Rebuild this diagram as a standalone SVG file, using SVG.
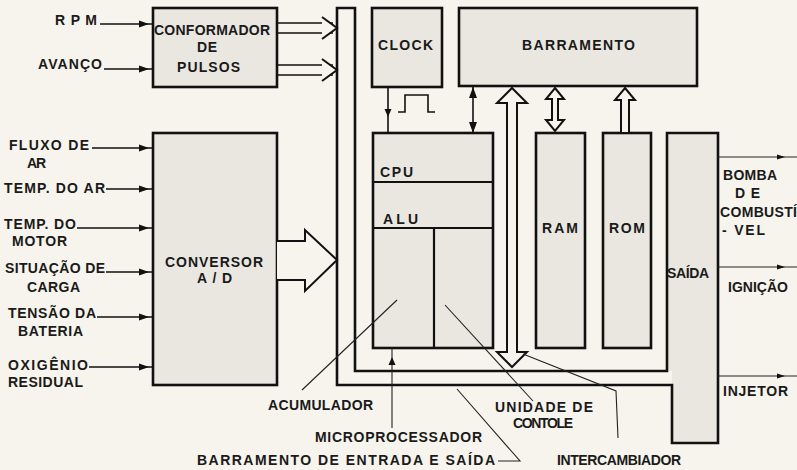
<svg xmlns="http://www.w3.org/2000/svg" width="797" height="470" viewBox="0 0 797 470">
<style>
.bg{fill:#f6f4ec}
.box{fill:#e9e7e0;stroke:#111;stroke-width:2.6}
.bus{fill:none;stroke:#111;stroke-width:2.6;stroke-linejoin:miter}
.div{stroke:#111;stroke-width:2.2;fill:none}
.ln{stroke:#111;stroke-width:1.6;fill:none}
.thin{stroke:#222;stroke-width:1.1;fill:none}
.hollow{fill:#f6f4ec;stroke:#111;stroke-width:2;stroke-linejoin:miter}
.t{font-family:"Liberation Sans",Arial,sans-serif;font-size:14px;font-weight:bold;fill:#1a1a1a}
</style>
<defs>
<marker id="ah" markerUnits="userSpaceOnUse" markerWidth="10" markerHeight="7" refX="14" refY="3.5" orient="auto" overflow="visible"><path d="M0,0 L10,3.5 L0,7 z" fill="#111"/></marker>
<marker id="ahs" markerUnits="userSpaceOnUse" markerWidth="8" markerHeight="6" refX="20" refY="3" orient="auto" overflow="visible"><path d="M0,0.5 L8,3 L0,5.5 z" fill="#111"/></marker>
<marker id="am" markerUnits="userSpaceOnUse" markerWidth="8" markerHeight="7" refX="4" refY="3.5" orient="auto" overflow="visible"><path d="M0,0 L8,3.5 L0,7 z" fill="#111"/></marker>
<marker id="ad" markerUnits="userSpaceOnUse" markerWidth="11" markerHeight="8" refX="11" refY="4" orient="auto-start-reverse" overflow="visible"><path d="M0,0 L11,4 L0,8 z" fill="#111"/></marker>
</defs>
<rect class="bg" x="0" y="0" width="797" height="470"/>

<g id="saida">
<polygon points="667,133 718,133 718,443 672,443 672,371 667,371" fill="#e9e7e0"/>
<text class="t" x="667" y="278" textLength="42" lengthAdjust="spacing">SAÍDA</text>
</g>

<g id="barramento-es">
<path class="bus" d="M337,8 H355 V371 H667 V133 H718 V443 H672 V385 H337 Z"/>
</g>

<g id="conformador">
<rect class="box" x="153" y="8" width="124" height="79"/>
<text class="t" x="154" y="35" textLength="116" lengthAdjust="spacing">CONFORMADOR</text>
<text class="t" x="197" y="52" textLength="20" lengthAdjust="spacing">DE</text>
<text class="t" x="177" y="72" textLength="63" lengthAdjust="spacing">PULSOS</text>
</g>

<g id="conversor">
<rect class="box" x="153" y="133" width="124" height="252"/>
<text class="t" x="165" y="267" textLength="98" lengthAdjust="spacing">CONVERSOR</text>
<text class="t" x="197" y="283" textLength="35" lengthAdjust="spacing">A/D</text>
</g>

<g id="clock">
<rect class="box" x="372" y="8" width="70" height="79"/>
<text class="t" x="378" y="50" textLength="55" lengthAdjust="spacing">CLOCK</text>
</g>

<g id="barramento">
<rect class="box" x="459" y="8" width="238" height="78"/>
<text class="t" x="522" y="50" textLength="113" lengthAdjust="spacing">BARRAMENTO</text>
</g>

<g id="cpu">
<rect class="box" x="373" y="133" width="120" height="215"/>
<path class="div" d="M373,182 H493 M373,228 H493 M434,228 V348"/>
<text class="t" x="380" y="177" textLength="33" lengthAdjust="spacing">CPU</text>
<text class="t" x="383" y="224" textLength="35" lengthAdjust="spacing">ALU</text>
</g>

<g id="ram">
<rect class="box" x="536" y="133" width="49" height="215"/>
<text class="t" x="542" y="233" textLength="36" lengthAdjust="spacing">RAM</text>
</g>

<g id="rom">
<rect class="box" x="603" y="133" width="48" height="215"/>
<text class="t" x="609" y="233" textLength="36" lengthAdjust="spacing">ROM</text>
</g>

<g id="connectors">
<path class="ln" d="M100,24 H153" marker-end="url(#ah)"/>
<path class="ln" d="M104,69 H153" marker-end="url(#ah)"/>
<path class="ln" d="M92,148 H153" marker-end="url(#ah)"/>
<path class="ln" d="M106,189 H153" marker-end="url(#ah)"/>
<path class="ln" d="M77,228 H153" marker-end="url(#ah)"/>
<path class="ln" d="M106,272 H153" marker-end="url(#ah)"/>
<path class="ln" d="M97,317 H153" marker-end="url(#ah)"/>
<path class="ln" d="M89,367 H153" marker-end="url(#ah)"/>
<path class="ln" d="M277,23 H333 M277,33 H333 M277,65 H333 M277,75 H333"/>
<path class="hollow" d="M322,17 L337,28 L322,39 M322,59 L337,70 L322,81" fill="none"/>
<path class="hollow" d="M277,241 H305 V230 L337,260 L305,291 V280 H277"/>
<path class="ln" d="M388,87 L388,113 L388,133" marker-mid="url(#am)"/>
<path class="ln" d="M398,112 H405 V95 H428 V112 H435"/>
<path class="ln" d="M473,87 V133" marker-start="url(#ad)" marker-end="url(#ad)"/>
<polygon class="hollow" points="512,88 527,103 517,103 517,352 527,352 512,367 497,352 507,352 507,103 497,103"/>
<polygon class="hollow" points="555,88 564,99 558,99 558,120 564,120 555,131 546,120 552,120 552,99 546,99"/>
<polygon class="hollow" points="625,88 635,100 629,100 629,133 621,133 621,100 615,100"/>
<path class="thin" d="M718,157 H797" marker-end="url(#ahs)"/>
<path class="thin" d="M718,267 H797" marker-end="url(#ahs)"/>
<path class="thin" d="M718,376 H797" marker-end="url(#ahs)"/>
<path class="thin" d="M397,300 L302,390"/>
<path class="thin" d="M392,428 L392,361 L392,348" marker-mid="url(#am)"/>
<path class="thin" d="M445,305 L533,401"/>
<path class="thin" d="M523,354 L616,391 L618,438"/>
<path class="thin" d="M498,461 H520 L457,389"/>
</g>

<g id="labels">
<text class="t" x="55" y="25" textLength="42" lengthAdjust="spacing">R P M</text>
<text class="t" x="38" y="69" textLength="64" lengthAdjust="spacing">AVANÇO</text>
<text class="t" x="9" y="150" textLength="80" lengthAdjust="spacing">FLUXO DE</text>
<text class="t" x="27" y="168" textLength="19" lengthAdjust="spacing">AR</text>
<text class="t" x="4" y="193" textLength="101" lengthAdjust="spacing">TEMP. DO AR</text>
<text class="t" x="4" y="229" textLength="72" lengthAdjust="spacing">TEMP. DO</text>
<text class="t" x="12" y="246" textLength="55" lengthAdjust="spacing">MOTOR</text>
<text class="t" x="5" y="273" textLength="100" lengthAdjust="spacing">SITUAÇÃO DE</text>
<text class="t" x="27" y="292" textLength="53" lengthAdjust="spacing">CARGA</text>
<text class="t" x="8" y="318" textLength="88" lengthAdjust="spacing">TENSÃO DA</text>
<text class="t" x="18" y="336" textLength="65" lengthAdjust="spacing">BATERIA</text>
<text class="t" x="8" y="370" textLength="80" lengthAdjust="spacing">OXIGÊNIO</text>
<text class="t" x="8" y="387" textLength="75" lengthAdjust="spacing">RESIDUAL</text>
<text class="t" x="723" y="180" textLength="54" lengthAdjust="spacing">BOMBA</text>
<text class="t" x="735" y="198" textLength="25" lengthAdjust="spacing">DE</text>
<text class="t" x="720" y="217" textLength="77" lengthAdjust="spacing">COMBUSTÍ</text>
<text class="t" x="722" y="235" textLength="43" lengthAdjust="spacing">- VEL</text>
<text class="t" x="728" y="292" textLength="60" lengthAdjust="spacing">IGNIÇÃO</text>
<text class="t" x="723" y="396" textLength="65" lengthAdjust="spacing">INJETOR</text>
<text class="t" x="268" y="410" textLength="105" lengthAdjust="spacing">ACUMULADOR</text>
<text class="t" x="495" y="412" textLength="98" lengthAdjust="spacing">UNIDADE DE</text>
<text class="t" x="513" y="428" textLength="60" lengthAdjust="spacing">CONTOLE</text>
<text class="t" x="315" y="442" textLength="167" lengthAdjust="spacing">MICROPROCESSADOR</text>
<text class="t" x="197" y="465" textLength="298" lengthAdjust="spacing">BARRAMENTO DE ENTRADA E SAÍDA</text>
<text class="t" x="557" y="465" textLength="124" lengthAdjust="spacing">INTERCAMBIADOR</text>
</g>
</svg>
